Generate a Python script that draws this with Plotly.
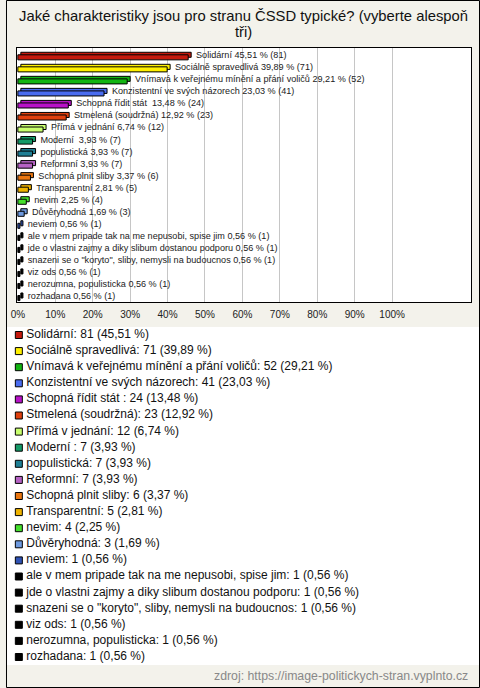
import plotly.graph_objects as go

# ---- data ----
categories = [
    "Solidární", "Sociálně spravedlivá", "Vnímavá k veřejnému mínění a přání voličů",
    "Konzistentní ve svých názorech", "Schopná řídit stát ", "Stmelená (soudržná)",
    "Přímá v jednání", "Moderní ", "populistická", "Reformní", "Schopná plnit sliby",
    "Transparentní", "nevim", "Důvěryhodná", "neviem",
    "ale v mem pripade tak na me nepusobi, spise jim",
    "jde o vlastni zajmy a diky slibum dostanou podporu",
    "snazeni se o \"koryto\", sliby, nemysli na budoucnos",
    "viz ods", "nerozumna, populisticka", "rozhadana",
]
counts = [81, 71, 52, 41, 24, 23, 12, 7, 7, 7, 6, 5, 4, 3, 1, 1, 1, 1, 1, 1, 1]
percents = [45.51, 39.89, 29.21, 23.03, 13.48, 12.92, 6.74, 3.93, 3.93, 3.93, 3.37,
            2.81, 2.25, 1.69, 0.56, 0.56, 0.56, 0.56, 0.56, 0.56, 0.56]
colors = ["#c4190d", "#fff000", "#12b512", "#4a6cf0", "#b812c8", "#e0400e",
          "#c8ff6e", "#149a68", "#1f7f95", "#b662c4", "#ea7610", "#efb300",
          "#44e02c", "#6e9ae0", "#2f52b4", "#000000", "#000000", "#000000",
          "#000000", "#000000", "#000000"]
tick_vals = [0, 10, 20, 30, 40, 50, 60, 70, 80, 90, 100]
tick_text = ["0%", "10%", "20%", "30%", "40%", "50%", "60%", "70%", "80%", "90%", "100%"]

title_line1 = "Jaké charakteristiky jsou pro stranu ČSSD typické? (vyberte alespoň"
title_line2 = "tři)"
source_text = "zdroj: https://image-politickych-stran.vyplnto.cz"


def fmt(v):
    return f"{v:.2f}".replace(".", ",")


bar_labels = [f"{c} {fmt(p)} % ({n})" for c, p, n in zip(categories, percents, counts)]
legend_labels = [f"{c}: {n} ({fmt(p)} %)" for c, p, n in zip(categories, percents, counts)]

W, H = 480, 688
FONT = "Liberation Sans, Arial, sans-serif"
DEPTH = 0.8      # pseudo-3D depth of the bars, in axis units
LABEL_GAP = 1.3  # gap between bar end and its label, in axis units

fig = go.Figure()

# depth (back) faces of the pseudo-3D bars
fig.add_trace(go.Bar(
    y=categories, x=percents, base=DEPTH, orientation="h",
    width=0.42, offset=-0.31,
    marker=dict(color=colors, line=dict(color="#000000", width=1)),
    hoverinfo="skip", showlegend=False,
    xaxis="x", yaxis="y",
))
# front faces
fig.add_trace(go.Bar(
    y=categories, x=percents, orientation="h",
    width=0.42, offset=-0.10,
    marker=dict(color=colors, line=dict(color="#000000", width=1)),
    hoverinfo="skip", showlegend=False,
    xaxis="x", yaxis="y",
))
# value labels next to the bars
fig.add_trace(go.Scatter(
    y=categories, x=[p + DEPTH + LABEL_GAP for p in percents], mode="text",
    text=bar_labels, textposition="middle right",
    textfont=dict(family=FONT, size=9.1, color="#222222"),
    cliponaxis=False, hoverinfo="skip", showlegend=False,
    xaxis="x", yaxis="y",
))

# custom legend block: colour squares
fig.add_trace(go.Scatter(
    y=categories, x=[13] * len(categories), mode="markers",
    marker=dict(symbol="square", size=7, color=colors, line=dict(color="#000000", width=1)),
    cliponaxis=False, hoverinfo="skip", showlegend=False,
    xaxis="x2", yaxis="y2",
))
# custom legend block: labels
fig.add_trace(go.Scatter(
    y=categories, x=[20.5] * len(categories), mode="text",
    text=legend_labels, textposition="middle right",
    textfont=dict(family=FONT, size=12, color="#111111"),
    cliponaxis=False, hoverinfo="skip", showlegend=False,
    xaxis="x2", yaxis="y2",
))

px_left, px_right = 11, 471
px_top, px_bot = 48, 302
x0px, x100px = 12, 391
upp = 100 / (x100px - x0px)
xr = [(px_left - x0px) * upp, (px_right - x0px) * upp]
row0, row_last = 56, 296.7
step = (row_last - row0) / (len(categories) - 1)
yr = [len(categories) - 1 + (px_bot - row_last) / step, -(row0 - px_top) / step]

lrow0, lrow_last = 335, 657
lstep = (lrow_last - lrow0) / (len(categories) - 1)
l_top = lrow0 - lstep / 2
l_bot = lrow_last + lstep / 2

fig.update_layout(
    width=W, height=H,
    margin=dict(l=0, r=0, t=0, b=0),
    paper_bgcolor="#f3f2eb",
    plot_bgcolor="#ffffff",
    barmode="overlay",
    showlegend=False,
    hovermode=False,
    xaxis=dict(
        domain=[px_left / W, px_right / W], range=xr,
        tickvals=tick_vals, ticktext=tick_text,
        tickfont=dict(family=FONT, size=10, color="#222222"),
        showgrid=True, gridcolor="#c6c6c6", gridwidth=1,
        zeroline=False, showline=True, linecolor="#000000", linewidth=1, mirror=True,
        ticks="outside", ticklen=3, tickcolor="rgba(0,0,0,0)",
        fixedrange=True,
    ),
    yaxis=dict(
        domain=[(H - px_bot) / H, (H - px_top) / H], range=yr,
        categoryorder="array", categoryarray=categories,
        showticklabels=False, showgrid=False, zeroline=False,
        showline=True, linecolor="#000000", linewidth=1, mirror=True,
        fixedrange=True,
    ),
    xaxis2=dict(domain=[0, 1], range=[0, W], visible=False, fixedrange=True),
    yaxis2=dict(
        domain=[(H - l_bot) / H, (H - l_top) / H],
        range=[len(categories) - 0.5, -0.5],
        categoryorder="array", categoryarray=categories,
        visible=False, fixedrange=True, anchor="x2",
    ),
    annotations=[
        dict(text=title_line1, x=0.5, y=(H - 16) / H, xref="paper", yref="paper",
             xanchor="center", yanchor="middle", showarrow=False,
             font=dict(family=FONT, size=14.8, color="#111111")),
        dict(text=title_line2, x=0.5, y=(H - 32) / H, xref="paper", yref="paper",
             xanchor="center", yanchor="middle", showarrow=False,
             font=dict(family=FONT, size=14.8, color="#111111")),
        dict(text=source_text, x=470 / W, y=(H - 676) / H, xref="paper", yref="paper",
             xanchor="right", yanchor="middle", showarrow=False,
             font=dict(family=FONT, size=12.3, color="#888888")),
    ],
    shapes=[
        dict(type="rect", xref="paper", yref="paper",
             x0=0.5 / W, x1=1 - 0.5 / W, y0=0.5 / H, y1=1 - 0.5 / H,
             line=dict(color="#000000", width=1), fillcolor="rgba(0,0,0,0)", layer="above"),
    ],
)

fig.write_html(
    "out.html",
    config={"displayModeBar": False, "staticPlot": True},
    post_script="document.body.style.margin='0';document.body.style.overflow='hidden';",
)
